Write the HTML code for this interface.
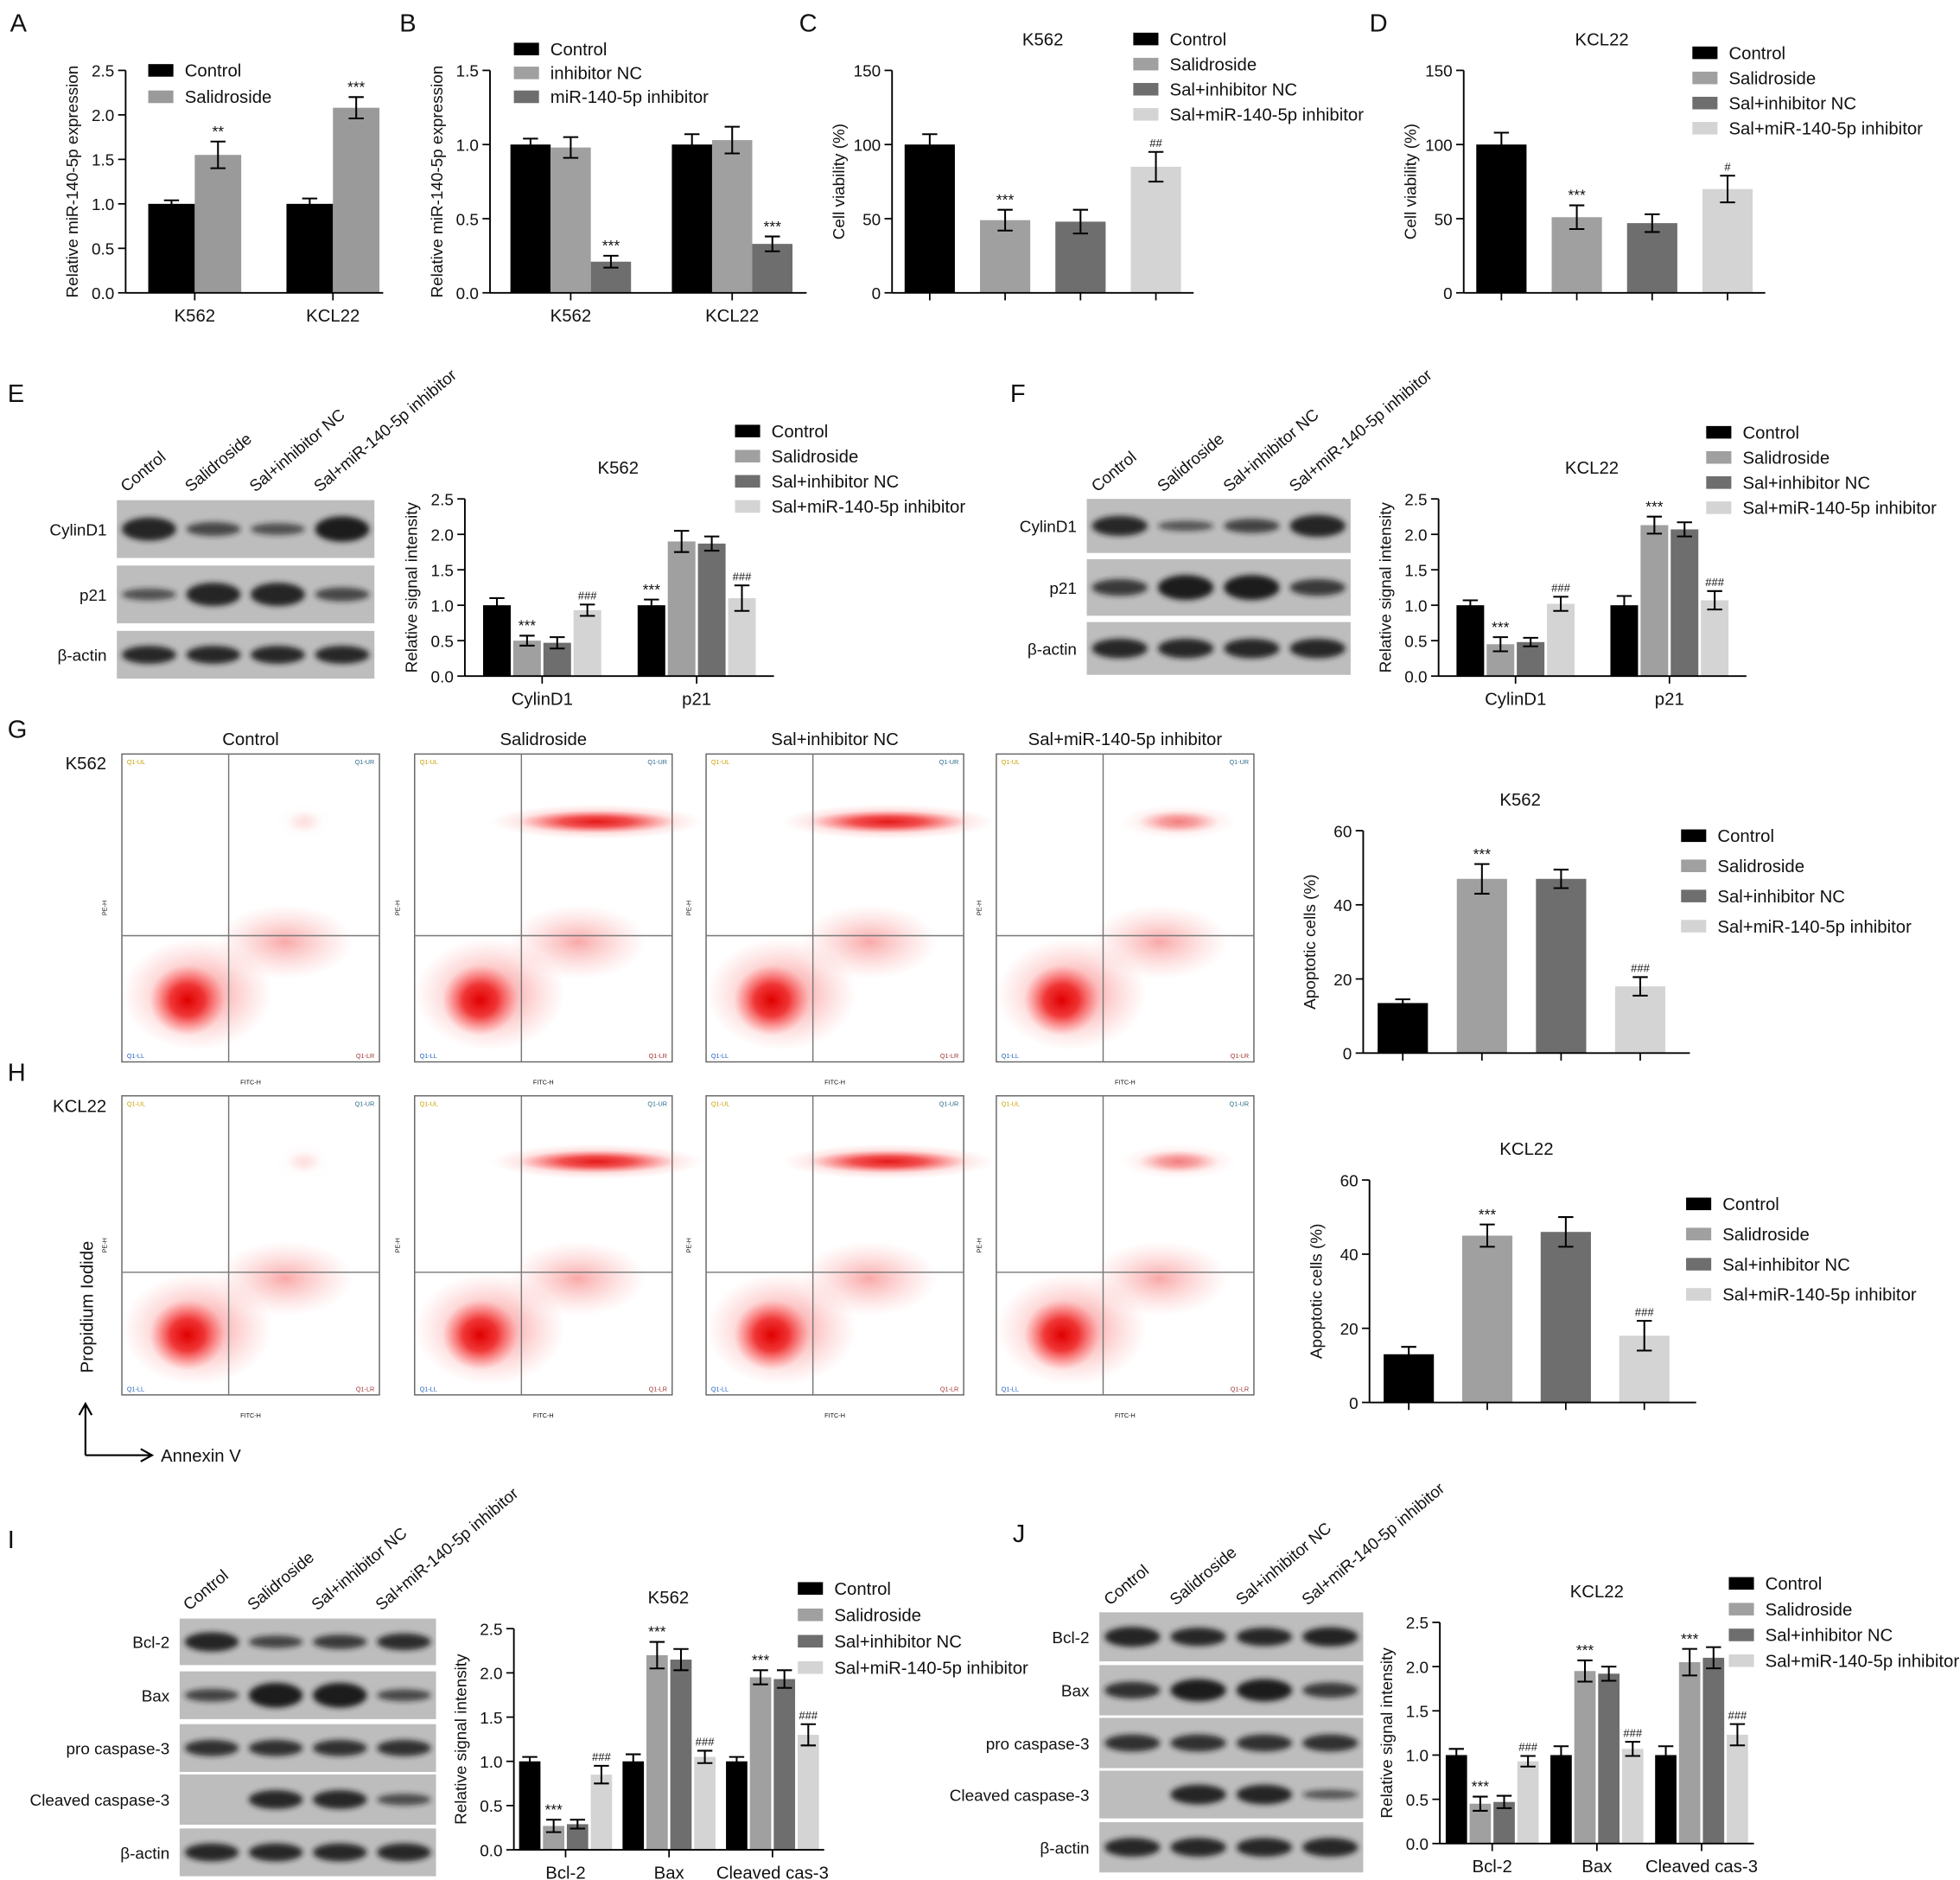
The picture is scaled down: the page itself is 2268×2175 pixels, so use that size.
<!DOCTYPE html>
<html><head><meta charset="utf-8"><style>
html,body{margin:0;padding:0;background:#fff;}
svg{display:block;font-family:"Liberation Sans",Arial,sans-serif;}
</style></head><body>
<svg id="fig" width="2268" height="2175" viewBox="0 0 1560 1496" xmlns="http://www.w3.org/2000/svg">
<defs>
<filter id="blur" x="-50%" y="-50%" width="200%" height="200%"><feGaussianBlur stdDeviation="2.2"/></filter>
<radialGradient id="cell"><stop offset="0" stop-color="#e00000" stop-opacity="1"/><stop offset="0.45" stop-color="#ee2020" stop-opacity="0.85"/><stop offset="1" stop-color="#ff6060" stop-opacity="0"/></radialGradient>
<radialGradient id="cellLight"><stop offset="0" stop-color="#f03030" stop-opacity="0.6"/><stop offset="1" stop-color="#ff8080" stop-opacity="0"/></radialGradient>
</defs>
</svg>
<script>
// ---------- chart data ----------
const aCats=['K562','KCL22'];
const aSeries=[[1.0,1.0],[1.55,2.08]];
const aErr=[[0.04,0.06],[0.15,0.12]];
const aMarks=[['',''],['**','***']];
const bCats=['K562','KCL22'];
const bSeries=[[1.0,1.0],[0.98,1.03],[0.21,0.33]];
const bErr=[[0.04,0.07],[0.07,0.09],[0.04,0.05]];
const bMarks=[['',''],['',''],['***','***']];
const cCats=['','','',''];
const cValues=[[100,49,48,85]];
const cErr=[[7,7,8,10]];
const cMarks=[['','***','','##']];
const dCats=['','','',''];
const dValues=[[100,51,47,70]];
const dErr=[[8,8,6,9]];
const dMarks=[['','***','','#']];
const eCats=['CylinD1','p21'];
const eSeries=[[1.0,1.0],[0.5,1.9],[0.47,1.87],[0.93,1.1]];
const eErr=[[0.1,0.08],[0.07,0.15],[0.08,0.1],[0.08,0.18]];
const eMarks=[['','***'],['***',''],['',''],['###','###']];
const fCats=['CylinD1','p21'];
const fSeries=[[1.0,1.0],[0.45,2.13],[0.48,2.07],[1.02,1.07]];
const fErr=[[0.07,0.13],[0.1,0.12],[0.06,0.1],[0.1,0.13]];
const fMarks=[['',''],['***','***'],['',''],['###','###']];
const gCats=['','','',''];
const gValues=[[13.5,47,47,18]];
const gErr=[[1,4,2.5,2.5]];
const gMarks=[['','***','','###']];
const hCats=['','','',''];
const hValues=[[13,45,46,18]];
const hErr=[[2,3,4,4]];
const hMarks=[['','***','','###']];
const iCats=['Bcl-2','Bax','Cleaved cas-3'];
const iSeries=[[1.0,1.0,1.0],[0.27,2.2,1.95],[0.29,2.15,1.93],[0.85,1.05,1.3]];
const iErr=[[0.05,0.08,0.05],[0.07,0.15,0.08],[0.05,0.12,0.1],[0.1,0.07,0.12]];
const iMarks=[['','',''],['***','***','***'],['','',''],['###','###','###']];
const jCats=['Bcl-2','Bax','Cleaved cas-3'];
const jSeries=[[1.0,1.0,1.0],[0.45,1.95,2.05],[0.47,1.92,2.1],[0.93,1.07,1.23]];
const jErr=[[0.07,0.1,0.1],[0.08,0.12,0.15],[0.07,0.08,0.12],[0.06,0.08,0.12]];
const jMarks=[['','',''],['***','***','***'],['','',''],['###','###','###']];
const col4=['#000000','#a0a0a0','#6e6e6e','#d4d4d4'];
const col3=['#000000','#a0a0a0','#6e6e6e'];
const leg4=['Control','Salidroside','Sal+inhibitor NC','Sal+miR-140-5p inhibitor'];

const NS='http://www.w3.org/2000/svg';
const svg=document.getElementById('fig');
function el(tag,attrs,parent,name){
  const e=document.createElementNS(NS,tag);
  for(const k in attrs)e.setAttribute(k,attrs[k]);
  
  
  (parent||svg).appendChild(e);return e;
}
function txt(x,y,s,size,parent,name,anchor,extra){
  const t=el('text',Object.assign({x:x,y:y,'font-size':size,'text-anchor':anchor||'start',fill:'#111'},extra||{}),parent,name);
  t.textContent=s;return t;
}
function chart(o){
  const g=el('g',{},svg,o.name);
  const y=v=>o.yB-v/o.max*(o.yB-o.yT);
  const nG=o.cats.length, nS=o.series.length;
  const gw=(o.x1-o.x0)/nG;
  const total=nS*o.barW+(nS-1)*o.gap;
  for(let gi=0;gi<nG;gi++){
    const cx=o.x0+gw*(gi+0.5);
    for(let si=0;si<nS;si++){
      const v=o.series[si][gi];
      const bx=o.colorByCat? cx-o.barW/2 : cx-total/2+si*(o.barW+o.gap);
      const c=o.colorByCat? o.colors[gi] : o.colors[si];
      el('rect',{x:bx,y:y(v),width:o.barW,height:o.yB-y(v),fill:c},g,'bar');
      const e=o.err[si][gi], mx=bx+o.barW/2;
      el('path',{d:`M${mx},${y(v+e)}V${y(v-e)}M${mx-6},${y(v+e)}h12M${mx-6},${y(v-e)}h12`,stroke:'#000','stroke-width':1.4,fill:'none'},g,'error-bar');
      const m=o.marks[si][gi];
      if(m)txt(mx,y(v+e)-4,m,m[0]=='#'?9:12,g,'significance-mark','middle');
    }
    el('line',{x1:cx,y1:o.yB,x2:cx,y2:o.yB+6,stroke:'#000','stroke-width':1.2},g,'x-tick');
    if(o.cats[gi])txt(cx,o.yB+23,o.cats[gi],14,g,'x-tick-label','middle');
  }
  el('line',{x1:o.x0,y1:o.yT,x2:o.x0,y2:o.yB,stroke:'#000','stroke-width':1.3},g,'y-axis');
  el('line',{x1:o.x0,y1:o.yB,x2:o.x1+(o.xExt||0),y2:o.yB,stroke:'#000','stroke-width':1.3},g,'x-axis');
  for(let v=0;v<=o.max+1e-9;v+=o.step){
    el('line',{x1:o.x0-6,y1:y(v),x2:o.x0,y2:y(v),stroke:'#000','stroke-width':1.2},g,'y-tick');
    txt(o.x0-9,y(v)+5,o.step<1?v.toFixed(1):String(Math.round(v)),13,g,'y-tick-label','end');
  }
  const yl=txt(0,0,o.ylabel,13,g,'y-axis-title','middle',{transform:`translate(${o.x0-38},${(o.yT+o.yB)/2}) rotate(-90)`});
  if(o.title)txt(o.titleX||(o.x0+o.x1)/2,o.yT-20,o.title,14,g,'chart-title','middle');
  o.legend.forEach((s,i)=>{
    el('rect',{x:o.lx,y:o.ly+i*o.ld-5,width:20,height:10,fill:o.legendColors[i]},g,'legend-swatch');
    txt(o.lx+29,o.ly+i*o.ld+5,s,14,g,'legend-entry');
  });
}
// panel letters
[['A',8,25],['B',318,25],['C',636,25],['D',1090,25],['E',6,320],['F',804,320],['G',6,587],['H',6,860],['I',6,1232],['J',806,1227]].forEach(p=>txt(p[1],p[2],p[0],20,svg,'panel-label-'+p[0].toLowerCase()));

chart({name:'chart-a',x0:100,x1:320,xExt:-15,yT:56,yB:233,max:2.5,step:0.5,cats:aCats,series:aSeries,err:aErr,marks:aMarks,colors:['#000','#9a9a9a'],barW:37,gap:0,ylabel:'Relative miR-140-5p expression',legend:['Control','Salidroside'],legendColors:['#000','#9a9a9a'],lx:118,ly:56,ld:21});
chart({name:'chart-b',x0:390,x1:647,xExt:-5,yT:56,yB:233,max:1.5,step:0.5,cats:bCats,series:bSeries,err:bErr,marks:bMarks,colors:col3,barW:32,gap:0,ylabel:'Relative miR-140-5p expression',legend:['Control','inhibitor NC','miR-140-5p inhibitor'],legendColors:col3,lx:409,ly:39,ld:19});
chart({name:'chart-c',x0:710,x1:950,yT:56,yB:233,max:150,step:50,cats:cCats,series:cValues,err:cErr,marks:cMarks,colors:col4,colorByCat:true,barW:40,gap:0,ylabel:'Cell viability (%)',title:'K562',titleX:830,legend:leg4,legendColors:col4,lx:902,ly:31,ld:20});
chart({name:'chart-d',x0:1165,x1:1405,yT:56,yB:233,max:150,step:50,cats:dCats,series:dValues,err:dErr,marks:dMarks,colors:col4,colorByCat:true,barW:40,gap:0,ylabel:'Cell viability (%)',title:'KCL22',titleX:1275,legend:leg4,legendColors:col4,lx:1347,ly:42,ld:20});
chart({name:'chart-e',x0:370,x1:616,yT:397,yB:538,max:2.5,step:0.5,cats:eCats,series:eSeries,err:eErr,marks:eMarks,colors:col4,barW:22,gap:2,ylabel:'Relative signal intensity',title:'K562',titleX:492,legend:leg4,legendColors:col4,lx:585,ly:343,ld:20});
chart({name:'chart-f',x0:1145,x1:1390,yT:397,yB:538,max:2.5,step:0.5,cats:fCats,series:fSeries,err:fErr,marks:fMarks,colors:col4,barW:22,gap:2,ylabel:'Relative signal intensity',title:'KCL22',titleX:1267,legend:leg4,legendColors:col4,lx:1358,ly:344,ld:20});
chart({name:'chart-g',x0:1085,x1:1337,xExt:8,yT:661,yB:838,max:60,step:20,cats:gCats,series:gValues,err:gErr,marks:gMarks,colors:col4,colorByCat:true,barW:40,gap:0,ylabel:'Apoptotic cells (%)',title:'K562',titleX:1210,legend:leg4,legendColors:col4,lx:1338,ly:665,ld:24});
chart({name:'chart-h',x0:1090,x1:1340,xExt:10,yT:939,yB:1116,max:60,step:20,cats:hCats,series:hValues,err:hErr,marks:hMarks,colors:col4,colorByCat:true,barW:40,gap:0,ylabel:'Apoptotic cells (%)',title:'KCL22',titleX:1215,legend:leg4,legendColors:col4,lx:1342,ly:958,ld:24});
chart({name:'chart-i',x0:409,x1:656,yT:1296,yB:1472,max:2.5,step:0.5,cats:iCats,series:iSeries,err:iErr,marks:iMarks,colors:col4,barW:17,gap:2,ylabel:'Relative signal intensity',title:'K562',titleX:532,legend:leg4,legendColors:col4,lx:635,ly:1264,ld:21});
chart({name:'chart-j',x0:1146,x1:1396,yT:1291,yB:1467,max:2.5,step:0.5,cats:jCats,series:jSeries,err:jErr,marks:jMarks,colors:col4,barW:17,gap:2,ylabel:'Relative signal intensity',title:'KCL22',titleX:1271,legend:leg4,legendColors:col4,lx:1376,ly:1260,ld:20.5});

// ---------- western blots ----------
const laneLabels=['Control','Salidroside','Sal+inhibitor NC','Sal+miR-140-5p inhibitor'];
function blot(name,x,w,rows,labelY){
  const g=el('g',{},svg,name);
  laneLabels.forEach((l,i)=>{
    const cx=x+w*(i+0.5)/4;
    txt(0,0,l,13,g,'lane-label','start',{transform:`translate(${cx-18},${labelY}) rotate(-40)`});
  });
  rows.forEach(r=>{
    el('rect',{x:x,y:r.y,width:w,height:r.h,fill:'#bdbdbd'},g,'blot-strip');
    txt(x-8,r.y+r.h/2+5,r.label,13,g,'protein-label','end');
    r.b.forEach((v,i)=>{
      if(v<=0)return;
      const cx=x+w*(i+0.5)/4;
      el('ellipse',{cx:cx,cy:r.y+r.h/2,rx:w/9.5,ry:Math.max(2,r.h*0.18*v+1),fill:'#1a1a1a','fill-opacity':Math.min(1,0.45+0.5*v),filter:'url(#blur)'},g,'band');
    });
  });
}
blot('blot-e',93,205,[{label:'CylinD1',y:398,h:46,b:[1,0.55,0.45,1.1]},{label:'p21',y:450,h:46,b:[0.45,1,1,0.55]},{label:'β-actin',y:502,h:38,b:[0.9,0.9,0.9,0.9]}],392);
blot('blot-f',865,210,[{label:'CylinD1',y:397,h:43,b:[0.9,0.4,0.6,1]},{label:'p21',y:445,h:45,b:[0.7,1.1,1.1,0.7]},{label:'β-actin',y:495,h:42,b:[0.9,0.9,0.9,0.9]}],392);
blot('blot-i',143,204,[{label:'Bcl-2',y:1288,h:37,b:[1,0.6,0.7,0.85]},{label:'Bax',y:1330,h:38,b:[0.6,1.3,1.3,0.55]},{label:'pro caspase-3',y:1372,h:38,b:[0.8,0.8,0.8,0.8]},{label:'Cleaved caspase-3',y:1412,h:40,b:[0,0.9,0.9,0.5]},{label:'β-actin',y:1455,h:38,b:[0.9,0.9,0.9,0.9]}],1282);
blot('blot-j',875,210,[{label:'Bcl-2',y:1283,h:39,b:[1,0.9,0.9,0.95]},{label:'Bax',y:1325,h:40,b:[0.8,1.1,1.1,0.7]},{label:'pro caspase-3',y:1367,h:40,b:[0.8,0.8,0.8,0.8]},{label:'Cleaved caspase-3',y:1409,h:38,b:[0,1,1,0.4]},{label:'β-actin',y:1450,h:40,b:[0.9,0.9,0.9,0.9]}],1278);

// ---------- flow cytometry plots ----------
const flowTitles=['Control','Salidroside','Sal+inhibitor NC','Sal+miR-140-5p inhibitor'];
const flowX=[97,330,562,793];
const flowUpper=[0.1,1,1,0.45];
function flow(name,x,y,h,upper,title){
  const g=el('g',{},svg,name);
  const w=205;
  el('rect',{x:x,y:y,width:w,height:h,fill:'#fff',stroke:'#666','stroke-width':1},g,'flow-plot-frame');
  const qx=x+85, qy=y+h*0.59;
  el('ellipse',{cx:x+60,cy:y+h*0.78,rx:60,ry:45,fill:'url(#cellLight)'},g,'cell-cloud');
  el('ellipse',{cx:x+52,cy:y+h*0.8,rx:30,ry:28,fill:'url(#cell)'},g,'cell-population');
  el('ellipse',{cx:qx+45,cy:qy+5,rx:55,ry:30,fill:'url(#cellLight)','fill-opacity':0.7},g,'cell-tail');
  if(upper>0.05){
    el('ellipse',{cx:qx+60,cy:y+h*0.22,rx:70*upper+15,ry:14,fill:'url(#cellLight)','fill-opacity':upper},g,'cell-upper');
    el('ellipse',{cx:qx+60,cy:y+h*0.22,rx:55*upper+8,ry:9,fill:'url(#cell)','fill-opacity':upper*0.8},g,'cell-upper-core');
  }
  el('line',{x1:qx,y1:y,x2:qx,y2:y+h,stroke:'#777','stroke-width':1},g,'quadrant-line-v');
  el('line',{x1:x,y1:qy,x2:x+w,y2:qy,stroke:'#777','stroke-width':1},g,'quadrant-line-h');
  txt(x+w/2,y-7,title,14,g,'flow-title','middle');
  txt(x+4,y+8,'Q1-UL',5,g,'quadrant-label','start',{fill:'#c9a000'});
  txt(x+w-4,y+8,'Q1-UR',5,g,'quadrant-label','end',{fill:'#2a6a8a'});
  txt(x+4,y+h-3,'Q1-LL',5,g,'quadrant-label','start',{fill:'#2060c0'});
  txt(x+w-4,y+h-3,'Q1-LR',5,g,'quadrant-label','end',{fill:'#a03030'});
  txt(x+w/2,y+h+18,'FITC-H',5,g,'flow-x-label','middle');
  txt(0,0,'PE-H',5,g,'flow-y-label','middle',{transform:`translate(${x-12},${y+h/2}) rotate(-90)`});
}
flowX.forEach((fx,i)=>flow('flow-k562-'+i,fx,600,245,flowUpper[i],flowTitles[i]));
flowX.forEach((fx,i)=>flow('flow-kcl22-'+i,fx,872,238,flowUpper[i],''));
txt(52,612,'K562',14,svg,'row-label-k562');
txt(42,885,'KCL22',14,svg,'row-label-kcl22');
el('path',{d:'M68,1158V1118M63,1126L68,1117L73,1126M68,1158H120M112,1153L121,1158L112,1163',stroke:'#000','stroke-width':1.5,fill:'none'},svg,'axis-arrows');
txt(0,0,'Propidium Iodide',14,svg,'pi-axis-label','middle',{transform:'translate(74,1040) rotate(-90)'});
txt(128,1163,'Annexin V',14,svg,'annexin-axis-label');
</script>
</body></html>
